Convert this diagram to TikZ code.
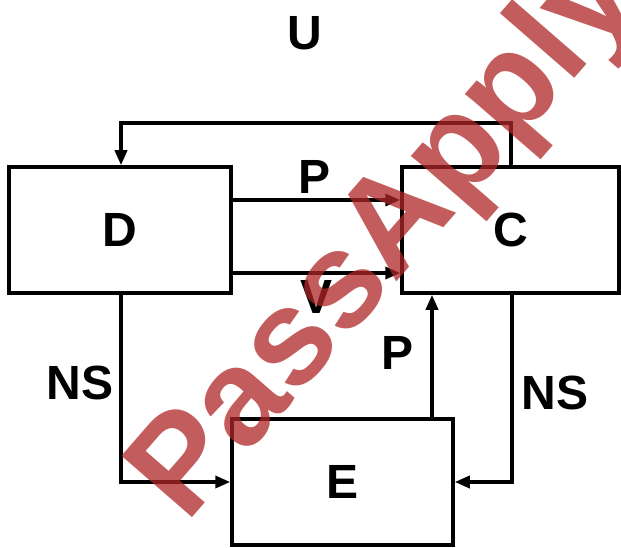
\documentclass[tikz,border=0pt]{standalone}
\usepackage{fontspec}
\setmainfont{Liberation Sans}
\usetikzlibrary{arrows.meta}
\definecolor{wmred}{RGB}{176,40,40}
\tikzset{
  box/.style={draw, line width=3.5pt, minimum width=#1, minimum height=126pt, inner sep=0pt, font=\fontsize{48}{56}\selectfont\bfseries},
  conn/.style={line width=3.5pt},
  arr/.style={line width=3.5pt, -{Triangle[length=15pt,width=12pt]}},
  lbl/.style={font=\fontsize{48}{56}\selectfont\bfseries, inner sep=0pt},
  wm/.style={font=\fontsize{136}{150}\selectfont\bfseries, text=wmred, opacity=0.75, inner sep=0pt}
}
\begin{document}
\begin{tikzpicture}[x=1pt,y=1pt]
\fill[white] (0,0) rectangle (621,547);
\clip (0,0) rectangle (621,547);
\useasboundingbox (0,0) rectangle (621,547);
\node[box=222pt] (D) at (120,317) {D};
\node[box=217pt] (C) at (510.5,317) {C};
\node[box=221pt] (E) at (342.5,65) {E};
\node[lbl] (U) at (305,514) {U};
\node[lbl] (P1) at (315,370) {P};
\node[lbl] (V) at (317,250) {V};
\node[lbl] (P2) at (398,194) {P};
\node[lbl] (NS1) at (80,164) {NS};
\node[lbl] (NS2) at (555,154) {NS};
\coordinate (fbR) at (511,424);
\coordinate (fbL) at (121,424);
\draw[arr] ([xshift=0.5pt]C.north) -- (fbR) -- (fbL) -- (fbL |- D.north);
\draw[arr] (D.east |- 0,347) -- (C.west |- 0,347);
\draw[arr] (D.east |- 0,274) -- (C.west |- 0,274);
\draw[arr] (E.north -| 432,0) -- (C.south -| 432,0);
\draw[arr] (D.south -| 121,0) |- (E.west);
\draw[arr] (C.south -| 512,0) |- (E.east);
\node[wm, rotate=49] (W) at (388,308) {PassApply};
\end{tikzpicture}
\end{document}
